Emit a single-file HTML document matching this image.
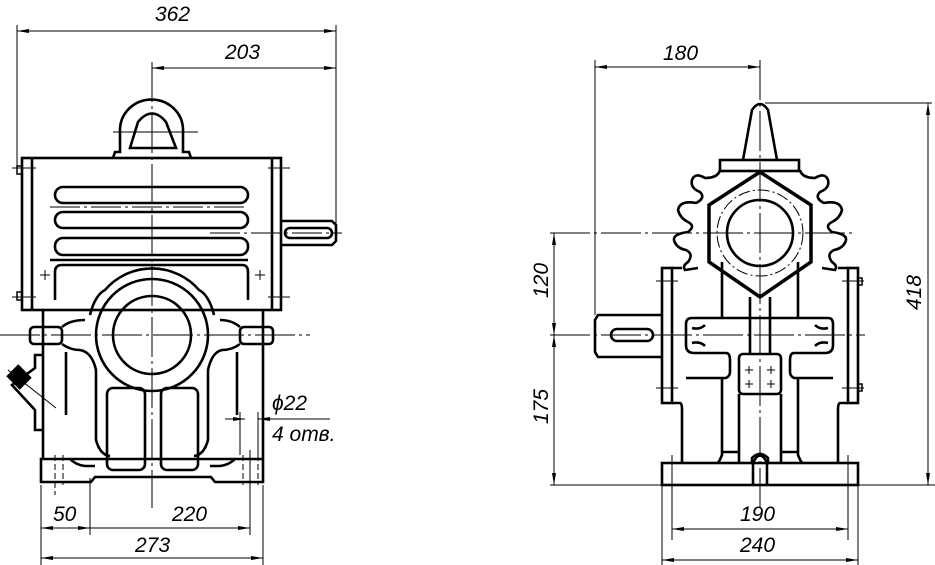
<!DOCTYPE html>
<html><head><meta charset="utf-8"><style>
html,body{margin:0;padding:0;background:#fff;}
svg{display:block;}
text{font-family:"Liberation Sans",sans-serif;font-style:italic;font-size:21px;fill:#000;}
</style></head><body>
<svg width="935" height="565" viewBox="0 0 935 565" xmlns="http://www.w3.org/2000/svg">
<defs>
<marker id="a" viewBox="0 0 12 6" refX="12" refY="3" markerWidth="12" markerHeight="6" orient="auto-start-reverse" markerUnits="userSpaceOnUse"><path d="M0,1 L12,3 L0,5 z" fill="#000"/></marker>
</defs>
<g fill="none" stroke="#000">
<!-- ===== LEFT VIEW ===== -->
<!-- dims -->
<g stroke-width="1">
<line x1="17" y1="25" x2="17" y2="170"/>
<line x1="336" y1="25" x2="336" y2="240"/>
<line x1="17" y1="31" x2="336" y2="31" marker-start="url(#a)" marker-end="url(#a)"/>
<line x1="152" y1="68" x2="336" y2="68" marker-start="url(#a)" marker-end="url(#a)"/>
<line x1="152" y1="62" x2="152" y2="508" stroke-dasharray="40,4,3,4"/>
<line x1="0" y1="335" x2="310" y2="335" stroke-dasharray="40,4,3,4"/>
<line x1="210" y1="233" x2="342" y2="233" stroke-dasharray="30,4,3,4"/>
<line x1="50" y1="207" x2="248" y2="207" stroke-dasharray="30,4,3,4"/>
<line x1="41" y1="485" x2="41" y2="565"/>
<line x1="90" y1="478" x2="90" y2="535"/>
<line x1="250" y1="450" x2="250" y2="535"/>
<line x1="263" y1="485" x2="263" y2="565"/>
<line x1="41" y1="528" x2="90" y2="528" marker-start="url(#a)" marker-end="url(#a)"/>
<line x1="90" y1="528" x2="250" y2="528" marker-end="url(#a)"/>
<line x1="41" y1="558" x2="263" y2="558" marker-start="url(#a)" marker-end="url(#a)"/>
<line x1="225" y1="419" x2="245" y2="419" marker-end="url(#a)"/>
<line x1="258" y1="419" x2="330" y2="419"/>
<line x1="258" y1="419" x2="270" y2="419" marker-start="url(#a)"/>
<line x1="240" y1="412" x2="240" y2="455"/>
<line x1="258" y1="412" x2="258" y2="455"/>
<line x1="113" y1="132" x2="198" y2="132"/>
<line x1="12" y1="168" x2="36" y2="168"/><line x1="12" y1="297" x2="36" y2="297"/>
<line x1="268" y1="168" x2="290" y2="168"/><line x1="268" y1="297" x2="290" y2="297"/>
<line x1="40" y1="275" x2="50" y2="275"/><line x1="45" y1="270" x2="45" y2="280"/>
<line x1="255" y1="275" x2="265" y2="275"/><line x1="260" y1="270" x2="260" y2="280"/>
<line x1="55" y1="455" x2="55" y2="495" stroke-dasharray="6,3"/>
<line x1="63" y1="455" x2="63" y2="485" stroke-dasharray="6,3"/>
<line x1="243" y1="455" x2="243" y2="485" stroke-dasharray="6,3"/>
<line x1="258" y1="455" x2="258" y2="485" stroke-dasharray="6,3"/>
<line x1="8" y1="370" x2="56" y2="408"/>
</g>
<g stroke-width="2.6">
<!-- eye -->
<path d="M113,158 L115,152 L120,152 L120,130 A31,30 0 0 1 183,130 L183,152 L189,152 L191,158"/>
<path d="M130,148 L138,122 Q152,105 166,122 L176,148 Z"/>
<!-- housing -->
<rect x="22" y="158" width="259" height="152"/>
<line x1="32" y1="158" x2="32" y2="310"/>
<line x1="272" y1="158" x2="272" y2="310"/>
<rect x="17" y="166" width="5" height="8" stroke-width="1.5"/>
<rect x="17" y="292" width="5" height="8" stroke-width="1.5"/>
<rect x="55" y="187" width="193" height="16" rx="8"/>
<rect x="55" y="212" width="193" height="16" rx="8"/>
<rect x="55" y="238" width="193" height="17" rx="8"/>
<line x1="50" y1="260" x2="248" y2="260"/>
<path d="M55,300 L55,272 Q55,265 62,265 L242,265 Q248,265 248,272 L248,300"/>
<!-- shaft -->
<path d="M281,221 L332,221 L336,225 L336,241 L332,245 L281,245"/>
<rect x="285" y="228" width="47" height="10" rx="5"/>
<!-- boss -->
<path d="M90,315 Q95,295 105,290 A62,62 0 0 1 199,290 Q209,295 214,315"/>
<circle cx="152" cy="335" r="56"/>
<circle cx="152" cy="335" r="39"/>
<rect x="30" y="327" width="32" height="17" rx="4"/>
<rect x="240" y="327" width="33" height="17" rx="4"/>
<path d="M43,310 L43,458 M263,310 L263,458"/>
<path d="M62,327 Q70,320 85,320 M62,344 Q70,350 80,350"/>
<path d="M240,327 Q232,320 220,320 M240,344 Q232,350 222,350"/>
<path d="M66,352 L66,415 M237,352 L237,415"/>
<path d="M80,350 Q92,352 96,370 L96,440 Q100,455 110,456 L107,456"/>
<path d="M222,350 Q212,352 208,370 L208,440 Q204,455 194,456"/>
<rect x="107" y="388" width="38" height="82" rx="6"/>
<rect x="161" y="388" width="37" height="82" rx="6"/>
<!-- base -->
<path d="M41,459 L263,459 L263,482 L215,482 L211,477 L95,477 L91,482 L41,482 Z"/>
<path d="M70,459 Q76,465 85,466 L95,466 M235,459 Q229,465 220,466 L210,466"/>
<!-- drain -->
<path d="M43,355 L35,355 L35,368 L12,385 L35,410 L35,430 L43,430"/>
</g>
<g transform="translate(19,377) rotate(-45)"><rect x="-8" y="-9" width="16" height="18" fill="#000" stroke-width="1"/></g>

<!-- ===== RIGHT VIEW ===== -->
<g stroke-width="1">
<line x1="595" y1="60" x2="595" y2="315"/>
<line x1="595" y1="67" x2="760" y2="67" marker-start="url(#a)" marker-end="url(#a)"/>
<line x1="760" y1="60" x2="760" y2="510" stroke-dasharray="40,4,3,4"/>
<line x1="765" y1="103" x2="932" y2="103"/>
<line x1="928" y1="103" x2="928" y2="485" marker-start="url(#a)" marker-end="url(#a)"/>
<line x1="550" y1="233" x2="855" y2="233" stroke-dasharray="40,4,3,4"/>
<line x1="550" y1="335" x2="865" y2="335" stroke-dasharray="40,4,3,4"/>
<line x1="550" y1="485" x2="935" y2="485"/>
<line x1="554" y1="233" x2="554" y2="335" marker-start="url(#a)" marker-end="url(#a)"/>
<line x1="554" y1="335" x2="554" y2="485" marker-start="url(#a)" marker-end="url(#a)"/>
<line x1="672" y1="455" x2="672" y2="540"/>
<line x1="848" y1="455" x2="848" y2="540"/>
<line x1="662" y1="485" x2="662" y2="565"/>
<line x1="858" y1="485" x2="858" y2="565"/>
<line x1="672" y1="529" x2="848" y2="529" marker-start="url(#a)" marker-end="url(#a)"/>
<line x1="662" y1="560" x2="858" y2="560" marker-start="url(#a)" marker-end="url(#a)"/>
<circle cx="760" cy="233" r="43" stroke-dasharray="12,3,2,3"/>
<line x1="656" y1="281" x2="678" y2="281"/><line x1="656" y1="388" x2="678" y2="388"/>
<line x1="842" y1="281" x2="864" y2="281"/><line x1="842" y1="388" x2="864" y2="388"/>
<line x1="745" y1="370" x2="753" y2="370"/><line x1="749" y1="366" x2="749" y2="374"/>
<line x1="767" y1="370" x2="775" y2="370"/><line x1="771" y1="366" x2="771" y2="374"/>
<line x1="745" y1="384" x2="753" y2="384"/><line x1="749" y1="380" x2="749" y2="388"/>
<line x1="767" y1="384" x2="775" y2="384"/><line x1="771" y1="380" x2="771" y2="388"/>
</g>
<g stroke-width="2.6">
<path d="M743,160 L752,110 Q760,98 768,110 L777,160"/>
<rect x="720" y="160" width="79" height="11"/>
<path d="M720,170 Q718,178 705,178 Q695,172 692,180 Q690,188 700,192 Q706,198 696,203 Q680,200 678,210 Q680,218 688,222 Q696,226 688,232 Q673,234 674,240 Q676,248 686,250 Q694,254 688,262 Q682,266 685,270 L698,268"/>
<path d="M800,170 Q802,178 815,178 Q825,172 828,180 Q830,188 820,192 Q814,198 824,203 Q840,200 842,210 Q840,218 832,222 Q824,226 832,232 Q847,234 846,240 Q844,248 834,250 Q826,254 832,262 Q838,266 835,270 L822,268"/>
<path d="M760,172 L811,205 L811,262 L760,297 L709,262 L709,205 Z" stroke-width="3.5"/>
<circle cx="760" cy="233" r="33"/>
<!-- flanges -->
<rect x="662" y="268" width="10" height="135"/>
<rect x="848" y="268" width="10" height="135"/>
<rect x="858" y="278" width="4" height="7" stroke-width="1.5"/>
<rect x="858" y="384" width="4" height="7" stroke-width="1.5"/>
<path d="M672,268 L682,268 M838,268 L848,268"/>
<!-- shaft -->
<path d="M662,315 L598,315 L595,320 L595,352 L598,357 L662,357"/>
<rect x="611" y="329" width="42" height="12" rx="6"/>
<!-- vertical rods -->
<path d="M722,262 L722,318 M798,262 L798,318 M750,297 L750,355 M770,297 L770,355"/>
<!-- wheel -->
<path d="M694,353 Q686,353 686,345 L686,324 Q686,318 692,318 L828,318 Q833,318 833,324 L833,345 Q833,353 825,353"/>
<path d="M694,353 L726,353 Q730,353 730,360 L730,372 Q730,376 726,378 L686,378 M825,353 L794,353 Q790,353 790,360 L790,372 Q790,376 794,378 L833,378"/>
<path d="M692,328 Q700,330 705,325 M828,328 Q820,330 815,325 M692,343 Q700,341 705,346 M828,343 Q820,341 815,346"/>
<rect x="739" y="354" width="42" height="40" rx="4"/>
<!-- body -->
<path d="M672,403 L680,403 Q682,403 682,410 L682,463 M848,403 L840,403 Q838,403 838,410 L838,463"/>
<path d="M722,378 L722,455 Q720,460 718,463 M798,378 L798,455 Q800,460 802,463"/>
<path d="M739,394 L739,463 M781,394 L781,463"/>
<path d="M722,452 L739,452 M781,452 L798,452"/>
<path d="M752,463 L752,458 Q760,450 768,458 L768,463 M753,485 L753,463 Q760,448 767,463 L767,485"/>
<rect x="662" y="463" width="196" height="22"/>
</g>
</g>
<!-- text -->
<text x="155" y="21">362</text>
<text x="225" y="59">203</text>
<text x="53" y="521">50</text>
<text x="172" y="521">220</text>
<text x="135" y="552">273</text>
<text x="272" y="410">ϕ22</text>
<text x="272" y="441">4 отв.</text>
<text x="663" y="60">180</text>
<text x="740" y="521">190</text>
<text x="740" y="552">240</text>
<text transform="translate(548,298) rotate(-90)">120</text>
<text transform="translate(548,424) rotate(-90)">175</text>
<text transform="translate(921,310) rotate(-90)">418</text>
</svg>
</body></html>
